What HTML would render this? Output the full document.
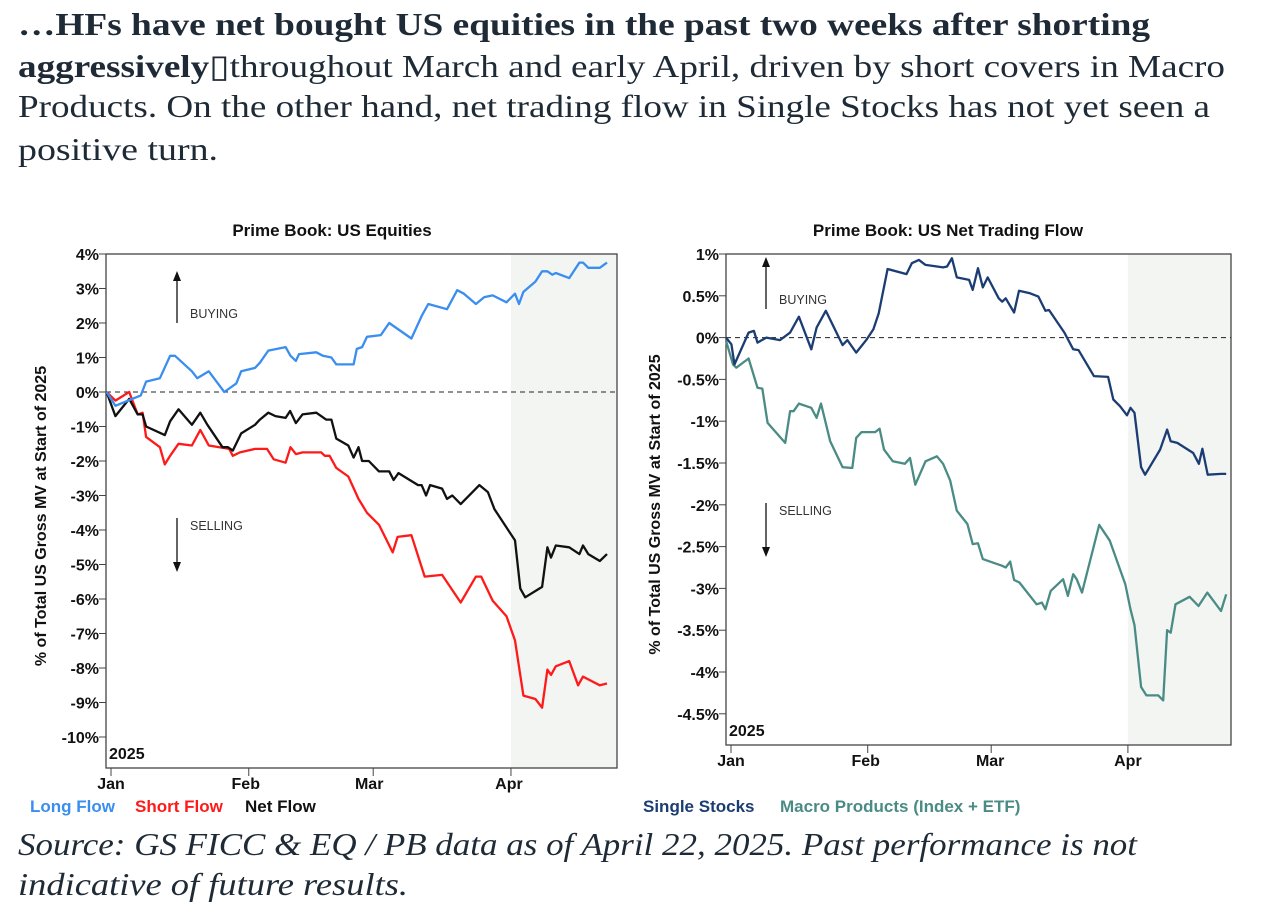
<!DOCTYPE html>
<html><head><meta charset="utf-8"><style>
html,body{margin:0;padding:0;background:#fff;}
svg{display:block;}
.hd{font-family:"Liberation Serif",serif;font-size:32px;fill:#1e2a36;}
.ax{font-family:"Liberation Sans",sans-serif;font-size:16px;font-weight:bold;fill:#111;}
.ttl{font-family:"Liberation Sans",sans-serif;font-size:17px;font-weight:bold;fill:#111;}
.lg{font-family:"Liberation Sans",sans-serif;font-size:17px;font-weight:bold;}
.ann{font-family:"Liberation Sans",sans-serif;font-size:12.5px;fill:#333;}
</style></head><body>
<svg id="root" width="1280" height="921" viewBox="0 0 1280 921">
<text class="hd" x="18" y="35" font-weight="bold" textLength="1132" lengthAdjust="spacingAndGlyphs">…HFs have net bought US equities in the past two weeks after shorting</text>
<text class="hd" x="18" y="77" textLength="1207" lengthAdjust="spacingAndGlyphs"><tspan font-weight="bold">aggressively</tspan>&#x25AF;throughout March and early April, driven by short covers in Macro</text>
<text class="hd" x="18" y="117" textLength="1192" lengthAdjust="spacingAndGlyphs">Products. On the other hand, net trading flow in Single Stocks has not yet seen a</text>
<text class="hd" x="18" y="160" textLength="200" lengthAdjust="spacingAndGlyphs">positive turn.</text>

<text class="ttl" x="332" y="236" text-anchor="middle">Prime Book: US Equities</text>
<text class="ttl" x="948" y="236" text-anchor="middle">Prime Book: US Net Trading Flow</text>

<g id="left"></g>
<g id="right"></g>

<text class="lg" x="30" y="812" fill="#3a8ef0">Long Flow</text>
<text class="lg" x="135" y="812" fill="#ff1a1a">Short Flow</text>
<text class="lg" x="245" y="812" fill="#111">Net Flow</text>
<text class="lg" x="643" y="812" fill="#1b3d73">Single Stocks</text>
<text class="lg" x="780" y="812" fill="#4a8c85">Macro Products (Index + ETF)</text>

<text class="hd" x="18" y="855" font-style="italic" textLength="1119" lengthAdjust="spacingAndGlyphs">Source: GS FICC &amp; EQ / PB  data as of April 22, 2025. Past performance is not</text>
<text class="hd" x="18" y="895" font-style="italic" textLength="390" lengthAdjust="spacingAndGlyphs">indicative of future results.</text>
</svg>
<script>
// ---- Left chart data (day of year 2025, % values) ----
const leftTicks = [4,3,2,1,0,-1,-2,-3,-4,-5,-6,-7,-8,-9,-10];
const months = ["Jan","Feb","Mar","Apr"];
const monthDays = [0,31,59,90];
const longDays = [-1,1.0,6.7,7.9,11.0,13.3,14.4,18.2,19.4,22.0,25.5,28.2,29.3,32.4,33.5,35.4,39.3,40.4,41.6,42.3,46.2,47.7,49.6,50.7,54.6,55.3,56.5,57.6,60.7,62.6,67.6,69.9,71.4,75.6,77.9,79.4,82.1,84.0,85.9,89.0,90.9,91.8,92.8,95.5,97.0,98.2,99.3,100.1,103.1,105.4,106.2,107.4,110.0,111.6];
const longVals = [0,-0.4,-0.1,0.3,0.4,1.05,1.05,0.6,0.4,0.6,0,0.25,0.6,0.7,0.85,1.2,1.3,1.05,0.9,1.1,1.15,1.05,1.0,0.8,0.8,1.25,1.3,1.6,1.65,2.0,1.55,2.2,2.55,2.4,2.95,2.85,2.55,2.75,2.8,2.6,2.85,2.55,2.9,3.2,3.5,3.5,3.4,3.45,3.3,3.75,3.75,3.6,3.6,3.75];
const netDays = [-1,1.0,4.1,6.0,7.1,7.9,12.1,13.3,15.2,18.2,20.1,21.7,25.1,26.3,27.4,29.3,32.4,33.5,35.4,37.0,39.3,40.3,41.6,43.1,46.2,48.4,49.6,50.7,53.4,54.6,55.7,56.5,58.0,60.3,62.6,63.6,64.7,69.1,69.9,70.9,71.8,74.5,75.6,76.8,78.7,82.9,84.8,86.3,90.9,92.1,93.2,97.0,98.2,99.0,100.1,103.1,105.4,106.2,107.4,110.0,111.6];
const netVals = [0,-0.7,-0.2,-0.65,-0.65,-1.0,-1.25,-0.85,-0.5,-0.95,-0.6,-0.95,-1.6,-1.6,-1.7,-1.2,-0.95,-0.8,-0.6,-0.7,-0.75,-0.55,-0.9,-0.65,-0.6,-0.8,-0.8,-1.35,-1.55,-1.9,-1.6,-2.0,-2.0,-2.3,-2.3,-2.55,-2.35,-2.7,-2.7,-3.0,-2.7,-2.8,-3.1,-3.0,-3.25,-2.7,-2.9,-3.4,-4.3,-5.7,-5.95,-5.65,-4.5,-4.8,-4.45,-4.5,-4.7,-4.45,-4.7,-4.9,-4.7];
const shortDays = [-1,1.0,4.1,6.0,7.1,7.9,11.0,12.1,13.3,15.2,18.2,20.1,22.0,26.6,27.4,29.0,32.4,35.1,36.6,39.3,40.4,41.6,43.1,47.3,48.1,49.2,50.7,53.4,55.7,57.6,60.3,63.4,64.5,67.6,70.6,74.5,78.7,82.1,83.3,85.9,89.0,90.9,92.8,95.5,97.0,98.2,99.0,100.1,103.1,105.1,106.2,110.0,111.6];
const shortVals = [0,-0.25,0,-0.65,-0.6,-1.3,-1.6,-2.1,-1.85,-1.5,-1.55,-1.1,-1.55,-1.65,-1.85,-1.75,-1.65,-1.65,-1.95,-2.05,-1.6,-1.8,-1.75,-1.75,-1.85,-1.85,-2.2,-2.45,-3.1,-3.5,-3.85,-4.65,-4.2,-4.15,-5.35,-5.3,-6.1,-5.35,-5.35,-6.05,-6.5,-7.2,-8.8,-8.9,-9.15,-8.05,-8.2,-7.95,-7.8,-8.5,-8.25,-8.5,-8.45];

// ---- Right chart data ----
const rightTicks = [1,0.5,0,-0.5,-1,-1.5,-2,-2.5,-3,-3.5,-4,-4.5];
const rightTickLabels = ["1%","0.5%","0%","-0.5%","-1%","-1.5%","-2%","-2.5%","-3%","-3.5%","-4%","-4.5%"];
const singleDays = [-1.1,0.1,0.8,4.0,5.2,6.0,8.0,11.1,13.4,15.4,18.2,19.4,21.5,25.3,26.4,28.4,30.8,32.3,33.5,35.5,39.8,41.0,42.6,44.1,48.1,49.0,50.1,51.2,54.0,54.8,56.0,57.1,58.2,60.7,61.5,62.3,64.2,65.3,67.8,69.7,71.3,72.1,75.6,77.6,78.8,82.3,85.5,86.7,88.2,89.8,90.6,91.5,93.0,93.9,97.3,98.9,99.7,101.2,104.8,106.1,106.9,108.1,111.1,112.3];
const singleVals = [0,-0.08,-0.32,0.06,0.08,-0.06,0,-0.03,0.06,0.25,-0.14,0.12,0.32,-0.09,-0.03,-0.18,-0.02,0.10,0.29,0.82,0.76,0.89,0.93,0.87,0.84,0.85,0.95,0.72,0.69,0.57,0.83,0.60,0.72,0.47,0.43,0.47,0.30,0.56,0.53,0.49,0.32,0.33,0.06,-0.14,-0.15,-0.46,-0.47,-0.74,-0.82,-0.93,-0.84,-0.90,-1.55,-1.64,-1.34,-1.10,-1.24,-1.26,-1.38,-1.51,-1.33,-1.64,-1.63,-1.63];
const macroDays = [-1.1,0.45,1.2,4.0,6.0,7.1,8.3,12.3,13.4,14.2,15.4,18.2,19.4,20.4,22.5,25.3,27.5,28.4,29.6,32.7,33.7,34.7,36.7,39.4,40.6,41.8,44.1,46.7,48.1,49.7,51.2,53.6,54.8,56.0,57.1,61.5,62.3,63.3,64.2,65.4,69.3,70.5,71.3,72.5,75.3,76.4,77.6,78.4,79.6,83.5,85.9,89.4,90.6,91.5,93.0,94.2,96.9,98.0,98.9,99.7,100.8,104.0,106.0,108.0,111.1,112.3];
const macroVals = [-0.04,-0.32,-0.36,-0.25,-0.60,-0.61,-1.02,-1.26,-0.88,-0.88,-0.79,-0.84,-0.96,-0.79,-1.24,-1.55,-1.56,-1.20,-1.13,-1.13,-1.09,-1.34,-1.48,-1.51,-1.44,-1.76,-1.48,-1.42,-1.51,-1.71,-2.07,-2.23,-2.47,-2.46,-2.65,-2.73,-2.75,-2.68,-2.90,-2.93,-3.19,-3.17,-3.25,-3.03,-2.89,-3.09,-2.83,-2.89,-3.05,-2.24,-2.43,-2.95,-3.25,-3.44,-4.18,-4.28,-4.28,-4.34,-3.50,-3.53,-3.19,-3.10,-3.21,-3.05,-3.27,-3.07];

const NS = "http://www.w3.org/2000/svg";
function mk(parent, tag, attrs, txt) {
  const e = document.createElementNS(NS, tag);
  for (const k in attrs) e.setAttribute(k, attrs[k]);
  if (txt !== undefined) e.textContent = txt;
  parent.appendChild(e);
  return e;
}

function drawChart(g, cfg) {
  const xS = d => cfg.x0 + (d - 0) * cfg.xPerDay;
  const yS = v => cfg.yTop + (cfg.vTop - v) * cfg.yPerUnit;
  const sh = mk(g, "rect", {x: xS(90), y: cfg.top, width: cfg.right - xS(90), height: cfg.bottom - cfg.top, fill: "#f3f5f3"});
  
  
  const fr = mk(g, "rect", {x: cfg.left, y: cfg.top, width: cfg.right - cfg.left, height: cfg.bottom - cfg.top, fill: "none", stroke: "#444", "stroke-width": 1.3});
  
  
  cfg.ticks.forEach((t, i) => {
    const y = yS(t);
    mk(g, "line", {x1: cfg.left - 7, x2: cfg.left, y1: y, y2: y, stroke: "#444", "stroke-width": 1});
    const lb = mk(g, "text", {x: cfg.left - 7, y: y + 6, "text-anchor": "end", class: "ax"}, cfg.tickLabels[i]);
    
    
  });
  const zl = mk(g, "line", {x1: cfg.left, x2: cfg.right, y1: yS(0), y2: yS(0), stroke: "#222", "stroke-width": 1, "stroke-dasharray": "5,4"});
  
  
  months.forEach((m, i) => {
    const x = xS(monthDays[i]);
    mk(g, "line", {x1: x, x2: x, y1: cfg.bottom, y2: cfg.bottom + 8, stroke: "#444", "stroke-width": 1});
    const lb = mk(g, "text", {x: x + cfg.labelShift[i], y: cfg.bottom + 21, "text-anchor": "middle", class: "ax", "font-size": "17"}, m);
    
    
  });
  const yr = mk(g, "text", {x: cfg.left + 3, y: cfg.bottom - 9, class: "ax", "font-size": "17"}, "2025");
  
  
  const cy = (cfg.top + cfg.bottom) / 2 + 5;
  const yt = mk(g, "text", {x: 0, y: 0, class: "ax", "font-size": "16.5", "text-anchor": "middle", transform: `translate(${cfg.titleX},${cy}) rotate(-90)`}, "% of Total US Gross MV at Start of 2025");
  
  
  const ax = cfg.arrowX;
  mk(g, "line", {x1: ax, x2: ax, y1: cfg.buyY + 10, y2: cfg.buyY + 52, stroke: "#111", "stroke-width": 1.3});
  mk(g, "path", {d: `M${ax-4},${cfg.buyY+10} L${ax+4},${cfg.buyY+10} L${ax},${cfg.buyY} Z`, fill: "#111"});
  const bt = mk(g, "text", {x: ax + 13, y: cfg.buyY + 47, class: "ann"}, "BUYING");
  
  
  mk(g, "line", {x1: ax, x2: ax, y1: cfg.sellY, y2: cfg.sellY + 44, stroke: "#111", "stroke-width": 1.3});
  mk(g, "path", {d: `M${ax-4},${cfg.sellY+44} L${ax+4},${cfg.sellY+44} L${ax},${cfg.sellY+54} Z`, fill: "#111"});
  const st = mk(g, "text", {x: ax + 13, y: cfg.sellY + 12, class: "ann"}, "SELLING");
  
  
  cfg.series.forEach(s => {
    const pts = s.days.map((d, i) => xS(d).toFixed(1) + "," + yS(s.vals[i]).toFixed(1)).join(" ");
    const pl = mk(g, "polyline", {points: pts, fill: "none", stroke: s.color, "stroke-width": 2.3, "stroke-linejoin": "round"});
    
    
  });
}

drawChart(document.getElementById("left"), {
  left: 106, right: 617, top: 254, bottom: 768,
  x0: 111, xPerDay: 4.444, yTop: 254, vTop: 4, yPerUnit: 34.5,
  ticks: leftTicks, tickLabels: leftTicks.map(t => t + "%"),
  labelShift: [0, -3, -4, -2], titleX: 46,
  arrowX: 177, buyY: 271, sellY: 518,
  series: [
    {name: "short-flow-line", days: shortDays, vals: shortVals, color: "#ff1a1a"},
    {name: "net-flow-line", days: netDays, vals: netVals, color: "#111111"},
    {name: "long-flow-line", days: longDays, vals: longVals, color: "#3a8ef0"}
  ]
});
drawChart(document.getElementById("right"), {
  left: 726, right: 1231, top: 254, bottom: 745,
  x0: 731, xPerDay: 4.41, yTop: 254, vTop: 1, yPerUnit: 83.6,
  ticks: rightTicks, tickLabels: rightTickLabels,
  labelShift: [0, -2, -1, 0], titleX: 660,
  arrowX: 766, buyY: 257, sellY: 503,
  series: [
    {name: "macro-products-line", days: macroDays, vals: macroVals, color: "#4a8c85"},
    {name: "single-stocks-line", days: singleDays, vals: singleVals, color: "#1b3d73"}
  ]
});
</script>
</body></html>
